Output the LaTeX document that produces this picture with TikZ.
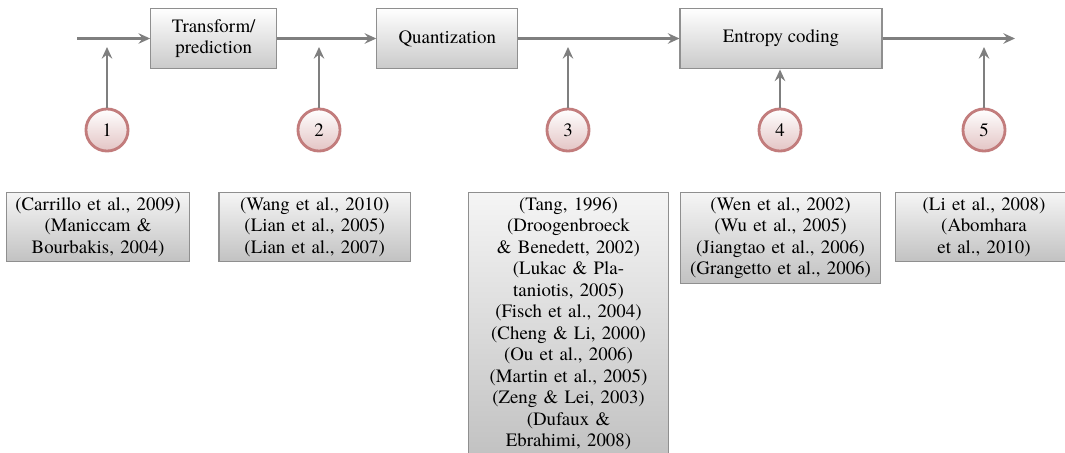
\documentclass[tikz,border=0pt]{standalone}
\usepackage{fontspec}
\setmainfont{texgyretermes}[Extension=.otf, UprightFont=*-regular]
\usetikzlibrary{arrows.meta,positioning,shadows,fit,shapes}

\definecolor{flowline}{HTML}{7F7F7F}
\definecolor{boxline}{HTML}{8F8F8F}
\definecolor{circline}{HTML}{C27C7C}
\definecolor{circfill}{HTML}{E3C4C4}

\begin{document}
\begin{tikzpicture}[
            > = {Stealth[length=6.2pt,width=5.6pt,inset=2.2pt]}, % arrow head style
            x = 0.53pt, y = -0.53pt, % one unit per pixel
            font = \fontsize{10}{11.4}\selectfont,
            semithick % line style
        ]

        \tikzstyle{stage}=[
            draw = boxline,
            line width = 0.6pt,
            top color = white,
            bottom color = black!21,
            minimum height = 32.2pt,
            align = center
        ]
        \tikzstyle{refs}=[
            draw = boxline,
            line width = 0.6pt,
            top color = black!4,
            bottom color = black!24,
            anchor = north,
            inner xsep = 2pt,
            inner ysep = 2.6pt,
            align = center
        ]
        \tikzstyle{stepno}=[
            circle,
            draw = circline,
            line width = 1.5pt,
            top color = white,
            bottom color = circfill,
            minimum size = 22.3pt,
            inner sep = 0pt
        ]
        \tikzstyle{flow}=[->, draw = flowline, line width = 1.2pt]

        \useasboundingbox (0,0) rectangle (1065,453);

        % processing chain
        \coordinate (in) at (77,38.5);
        \node[stage, minimum width = 66.8pt] (trans) at (213.7,38.5) {Transform/\\prediction};
        \node[stage, minimum width = 74.7pt] (quant) at (447.3,38.5) {Quantization};
        \node[stage, minimum width = 107pt] (entropy) at (781,38.5) {Entropy coding};
        \coordinate (out) at (1015,38.5);

        \draw[flow] (in) -- (trans);
        \draw[flow] (trans) -- (quant);
        \draw[flow] (quant) -- (entropy);
        \draw[flow] (entropy) -- (out);

        % numbered points
        \node[stepno] (n1) at (107,130) {1};
        \node[stepno] (n2) at (319,130) {2};
        \node[stepno] (n3) at (568,130) {3};
        \node[stepno] (n4) at (780,130) {4};
        \node[stepno] (n5) at (984,130) {5};

        \coordinate (h1) at (107,47);
        \coordinate (h2) at (319,47);
        \coordinate (h3) at (568,47);
        \coordinate (h5) at (984,47);

        \draw[flow] (n1) -- (h1);
        \draw[flow] (n2) -- (h2);
        \draw[flow] (n3) -- (h3);
        \draw[flow] (n4) -- (n4 |- entropy.south);
        \draw[flow] (n5) -- (h5);

        % references
        \node[refs, text width = 93pt] (r1) at (98,192)
            {(Carrillo et al., 2009)\\(Maniccam \&\\Bourbakis, 2004)};
        \node[refs, text width = 97.5pt] (r2) at (314.7,192)
            {(Wang et al., 2010)\\(Lian et al., 2005)\\(Lian et al., 2007)};
        \node[refs, text width = 102.3pt] (r3) at (568.5,192)
            {(Tang, 1996)\\(Droogenbroeck\\\& Benedett, 2002)\\(Lukac \& Pla-\\taniotis, 2005)\\(Fisch et al., 2004)\\(Cheng \& Li, 2000)\\(Ou et al., 2006)\\(Martin et al., 2005)\\(Zeng \& Lei, 2003)\\(Dufaux \&\\Ebrahimi, 2008)};
        \node[refs, text width = 102pt] (r4) at (780.5,192)
            {(Wen et al., 2002)\\(Wu et al., 2005)\\(Jiangtao et al., 2006)\\(Grangetto et al., 2006)};
        \node[refs, text width = 90pt] (r5) at (984,192)
            {(Li et al., 2008)\\(Abomhara\\et al., 2010)};

    \end{tikzpicture}
\end{document}
